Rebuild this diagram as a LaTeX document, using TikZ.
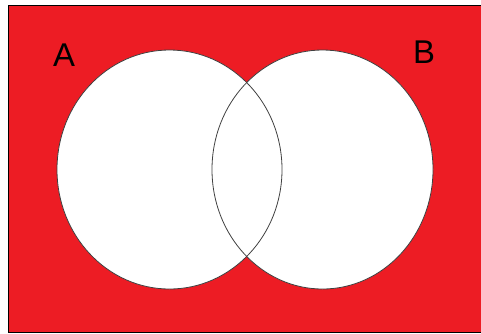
\documentclass[tikz,border=0pt]{standalone}
\usepackage{fontspec}
\setmainfont{Liberation Sans}
\definecolor{paintred}{RGB}{237,28,36}
\tikzset{
  setcircle/.style={fill=white},
  setedge/.style={draw=black!75, line width=0.8bp},
  setlabel/.style={font=\fontsize{33}{33}\selectfont, text=black, inner sep=0pt}
}
\begin{document}
\begin{tikzpicture}[x=1bp,y=-1bp]
\useasboundingbox (0,0) rectangle (481,333);
\fill[paintred] (8,5) rectangle (481,332);
\draw[black, line width=1bp] (481,5) -- (8,5) -- (8,332) -- (481,332);
\fill[setcircle] (169.5,169.5) ellipse [x radius=112.5, y radius=119.5];
\fill[setcircle] (322.5,169.5) ellipse [x radius=110.5, y radius=119.5];
\draw[setedge] (169.5,169.5) ellipse [x radius=112.5, y radius=119.5];
\draw[setedge] (322.5,169.5) ellipse [x radius=110.5, y radius=119.5];
\node[setlabel] (A) at (64,55) {A};
\node[setlabel] (B) at (424,52) {B};
\end{tikzpicture}
\end{document}
